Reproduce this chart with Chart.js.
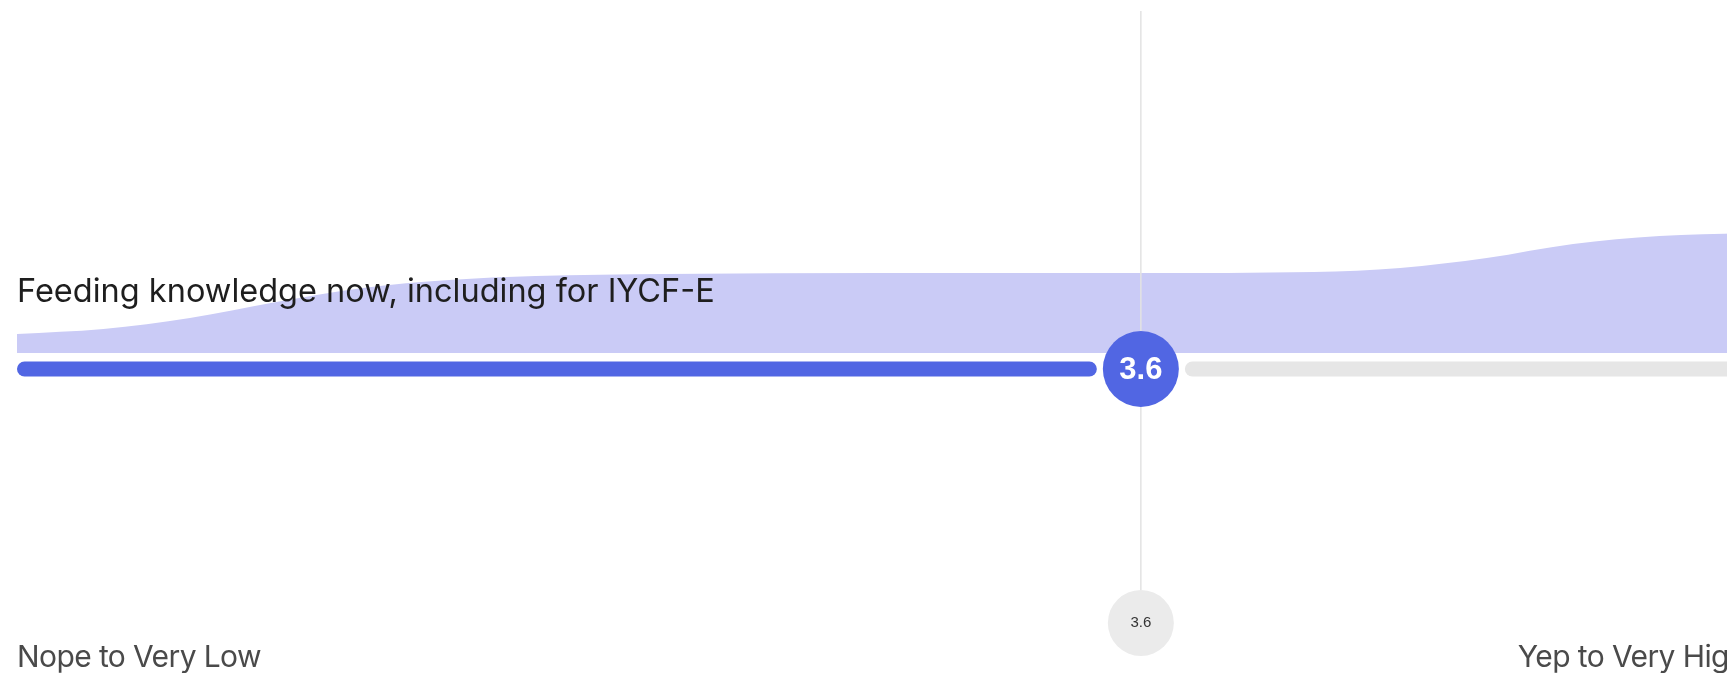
<!DOCTYPE html>
<html>
<head>
<meta charset="utf-8">
<script src="https://cdn.jsdelivr.net/npm/chart.js@4.4.1/dist/chart.umd.min.js"></script>
<style>
  html, body { margin: 0; padding: 0; background: #fff; overflow: hidden; }
  #wrap { width: 1727px; height: 673px; overflow: hidden; }
  #slider { display: block; }
</style>
</head>
<body>
<div id="wrap"><canvas id="slider"></canvas></div>
<script>
// question + answer scale
const question = 'Feeding knowledge now, including for IYCF-E'
const scaleLabels = ['Nope to Very Low', 'Yep to Very High']
const scaleMin = 1
const scaleMax = 5
const score = 3.6

// response distribution (smoothed)
const densityX = [1.0, 1.2, 1.4, 1.6, 1.8, 2.0, 2.2, 2.5, 3.0, 3.6, 4.0, 4.2, 4.4, 4.6, 4.8, 5.0]
const densityY = [19, 24, 35, 51, 65, 73, 77, 79, 80, 80, 81, 85, 95, 109, 117, 120]

const canvas = document.getElementById('slider')
canvas.width = 1763
canvas.height = 673
canvas.style.width = '1763px'
canvas.style.height = '673px'

const blue = '#5166e3'

const sliderPlugin = {
  id: 'slider',
  afterDatasetsDraw(chart) {
    const ctx = chart.ctx
    const x = chart.scales.x
    const y = chart.scales.y
    const base = y.getPixelForValue(0)
    const trackY = base + 16
    const left = x.getPixelForValue(scaleMin)
    const right = x.getPixelForValue(scaleMax)
    const cx = x.getPixelForValue(score)
    const r = 38       // big marker radius
    const gap = 6
    const bubbleY = 623
    const bubbleR = 33
    ctx.save()

    // question text sits over the area
    ctx.font = '32.5px Inter'
    ctx.letterSpacing = '0px'
    ctx.fillStyle = '#1e1e1e'
    ctx.textAlign = 'left'
    ctx.textBaseline = 'alphabetic'
    ctx.fillText(question, left, base - 51)

    // guide line down to the mean bubble
    ctx.strokeStyle = '#e3e3e3'
    ctx.lineWidth = 1.5
    ctx.beginPath()
    ctx.moveTo(cx, 11)
    ctx.lineTo(cx, bubbleY - bubbleR)
    ctx.stroke()

    // track
    ctx.lineCap = 'round'
    ctx.lineWidth = 15
    ctx.strokeStyle = '#e6e6e6'
    ctx.beginPath()
    ctx.moveTo(cx + r + gap + 7.5, trackY)
    ctx.lineTo(right, trackY)
    ctx.stroke()
    ctx.strokeStyle = blue
    ctx.beginPath()
    ctx.moveTo(left + 7.5, trackY)
    ctx.lineTo(cx - r - gap - 7.5, trackY)
    ctx.stroke()

    // score marker
    ctx.fillStyle = blue
    ctx.beginPath()
    ctx.arc(cx, trackY, r, 0, Math.PI * 2)
    ctx.fill()
    ctx.fillStyle = '#fff'
    ctx.font = 'bold 31px "Liberation Sans", Arial, sans-serif'
    ctx.textAlign = 'center'
    ctx.textBaseline = 'middle'
    ctx.fillText(score.toFixed(1), cx, trackY + 1)

    // mean bubble at the bottom
    ctx.fillStyle = '#ebebeb'
    ctx.beginPath()
    ctx.arc(cx, bubbleY, bubbleR, 0, Math.PI * 2)
    ctx.fill()
    ctx.fillStyle = '#333'
    ctx.font = '15px "Liberation Sans", Arial, sans-serif'
    ctx.fillText(score.toFixed(1), cx, bubbleY)

    // end labels
    ctx.font = '30px Inter'
    ctx.letterSpacing = '-0.6px'
    ctx.fillStyle = '#4a4a4a'
    ctx.textBaseline = 'alphabetic'
    ctx.textAlign = 'left'
    ctx.fillText(scaleLabels[0], left, 667)
    ctx.textAlign = 'right'
    ctx.fillText(scaleLabels[1], right, 667)
    ctx.restore()
  }
}

new Chart(canvas.getContext('2d'), {
  type: 'line',
  data: {
    datasets: [{
      data: densityX.map((v, i) => ({ x: v, y: densityY[i] })),
      fill: 'origin',
      backgroundColor: '#cacbf6',
      borderWidth: 0,
      pointRadius: 0,
      cubicInterpolationMode: 'monotone'
    }]
  },
  options: {
    responsive: false,
    animation: false,
    events: [],
    layout: { padding: { left: 17, right: 17, top: 0, bottom: 0 } },
    plugins: {
      legend: { display: false },
      tooltip: { enabled: false }
    },
    scales: {
      x: { type: 'linear', min: scaleMin, max: scaleMax, display: false },
      y: { min: -320, max: 353, display: false }
    }
  },
  plugins: [sliderPlugin]
})
</script>
</body>
</html>
